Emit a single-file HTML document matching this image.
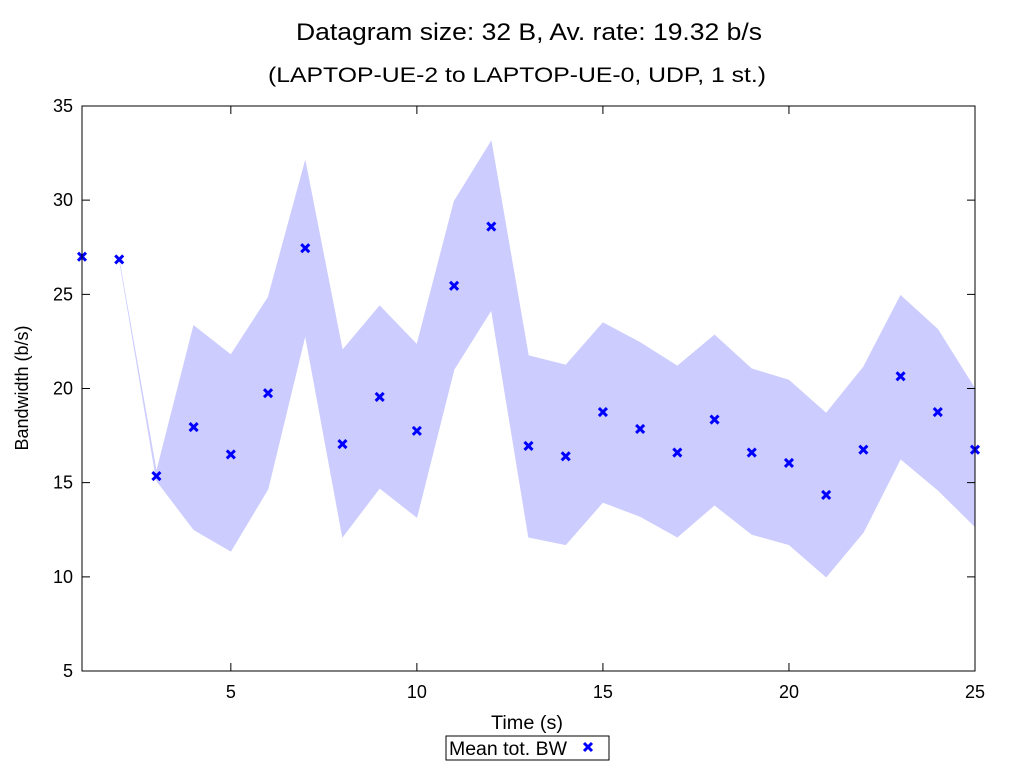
<!DOCTYPE html>
<html><head><meta charset="utf-8"><style>
body{margin:0;background:#fff;}
svg text{font-family:"Liberation Sans",sans-serif;fill:#000;}
</style></head><body>
<svg id="chart" width="1024" height="768" xmlns="http://www.w3.org/2000/svg">
<text x="296" y="40" font-size="24" textLength="466" lengthAdjust="spacingAndGlyphs">Datagram size: 32 B, Av. rate: 19.32 b/s</text>
<text x="268" y="82" font-size="21" textLength="498" lengthAdjust="spacingAndGlyphs">(LAPTOP-UE-2 to LAPTOP-UE-0, UDP, 1 st.)</text>
<g id="band"></g>
<g id="marks"></g>
<rect x="82" y="106" width="893" height="565" fill="none" stroke="#000" stroke-width="1"/>
<g id="axes"></g>
<text x="491" y="729" font-size="19" textLength="72" lengthAdjust="spacingAndGlyphs">Time (s)</text>
<text x="28" y="388" font-size="18" text-anchor="middle" transform="rotate(-90 28 388)">Bandwidth (b/s)</text>
<g>
<rect x="446" y="736" width="163" height="24" fill="#fff" stroke="#000"/>
<text x="449" y="755" font-size="19" textLength="118" lengthAdjust="spacingAndGlyphs">Mean tot. BW</text>
<path d="M584 743l8 8M592 743l-8 8" stroke="#0000ff" stroke-width="3"/>
</g>
</svg>
<script>
const times=[1,2,3,4,5,6,7,8,9,10,11,12,13,14,15,16,17,18,19,20,21,22,23,24,25];
const meanBW=[27.0,26.85,15.35,17.95,16.5,19.75,27.45,17.05,19.55,17.75,25.45,28.6,16.95,16.4,18.75,17.85,16.6,18.35,16.6,16.05,14.35,16.75,20.65,18.75,16.75];
const bandTimes=[2,3,4,5,6,7,8,9,10,11,12,13,14,15,16,17,18,19,20,21,22,23,24,25];
const upperBW=[26.85,15.6,23.35,21.8,24.85,32.1,22.05,24.4,22.35,29.95,33.15,21.75,21.25,23.5,22.45,21.2,22.85,21.05,20.45,18.7,21.15,24.95,23.15,20.0];
const lowerBW=[26.85,15.1,12.5,11.35,14.65,22.8,12.1,14.7,13.15,21.0,24.15,12.1,11.7,13.95,13.2,12.1,13.8,12.25,11.7,9.98,12.35,16.25,14.6,12.65];
const xTicks=[5,10,15,20,25];
const yTicks=[5,10,15,20,25,30,35];
const NS="http://www.w3.org/2000/svg";
const X=v=>82+(v-1)*(975-82)/24;
const Y=v=>671-(v-5)*(671-106)/30;
const band=document.getElementById('band');
let d='M'+bandTimes.map((t,i)=>X(t)+' '+Y(upperBW[i])).join(' L');
for(let i=bandTimes.length-1;i>=0;i--)d+=' L'+X(bandTimes[i])+' '+Y(lowerBW[i]);
d+='Z';
const p=document.createElementNS(NS,'path');
p.setAttribute('d',d);p.setAttribute('fill','#ccccff');p.setAttribute('stroke','#ccccff');p.setAttribute('stroke-width','0.5');


band.appendChild(p);
const marks=document.getElementById('marks');
times.forEach((t,i)=>{
 const x=X(t),y=Y(meanBW[i]);
 const m=document.createElementNS(NS,'path');
 m.setAttribute('d',`M${x-4} ${y-4}l8 8M${x+4} ${y-4}l-8 8`);
 m.setAttribute('stroke','#0000ff');m.setAttribute('stroke-width','3');
 
 
 marks.appendChild(m);
});
const axes=document.getElementById('axes');
xTicks.forEach(t=>{
 const x=X(t);
 const l=document.createElementNS(NS,'path');
 l.setAttribute('d',`M${x} 671v-8M${x} 106v8`);l.setAttribute('stroke','#000');
 
 
 axes.appendChild(l);
 const tx=document.createElementNS(NS,'text');
 tx.setAttribute('x',x);tx.setAttribute('y',698);tx.setAttribute('font-size','18');tx.setAttribute('text-anchor','middle');
 tx.textContent=t;
 
 
 axes.appendChild(tx);
});
yTicks.forEach(t=>{
 const y=Y(t);
 const l=document.createElementNS(NS,'path');
 l.setAttribute('d',`M82 ${y}h8M975 ${y}h-8`);l.setAttribute('stroke','#000');
 
 
 axes.appendChild(l);
 const tx=document.createElementNS(NS,'text');
 tx.setAttribute('x',73);tx.setAttribute('y',y+6);tx.setAttribute('font-size','18');tx.setAttribute('text-anchor','end');
 tx.textContent=t;
 
 
 axes.appendChild(tx);
});
</script>
</body></html>
